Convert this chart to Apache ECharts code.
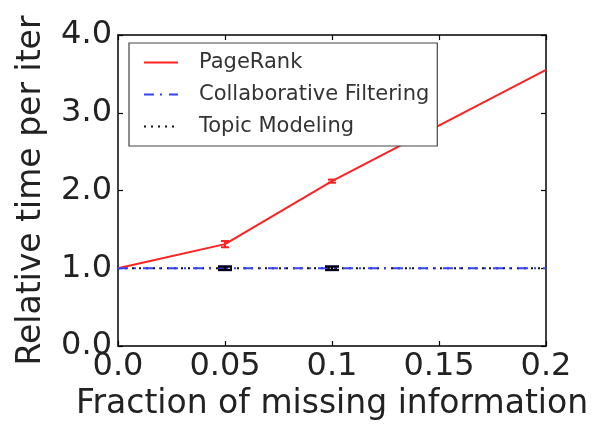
<!DOCTYPE html>
<html>
<head>
<meta charset="utf-8">
<script src="https://cdn.jsdelivr.net/npm/echarts@6/dist/echarts.min.js"></script>
<style>html,body{margin:0;padding:0;background:#fff;}#c{width:605px;height:427px;}</style>
</head>
<body>
<div id="c"></div>
<script>
var xValues = [0.0, 0.05, 0.1, 0.2];
var pageRank = [1.0, 1.31, 2.12, 3.55];
var pageRankErr = [0, 0.04, 0.02, 0];
var collabFiltering = [1.0, 1.0, 1.0, 1.0];
var collabErr = [0, 0.025, 0.025, 0];
var topicModeling = [1.0, 1.0, 1.0, 1.0];
var topicErr = [0, 0.02, 0.02, 0];
var xTickLabels = ['0.0', '0.05', '0.1', '0.15', '0.2'];
var yTickLabels = ['0.0', '1.0', '2.0', '3.0', '4.0'];

var FONT = 'DejaVu Sans';
function pts(ys) { return xValues.map(function (x, i) { return [x, ys[i]]; }); }
function errPts(ys, es) {
  var out = [];
  xValues.forEach(function (x, i) { if (es[i] > 0) out.push([x, ys[i], es[i]]); });
  return out;
}
function errSeries(name, ys, es, color, capW) {
  return {
    type: 'custom', name: name + ' err', silent: true, z: 5,
    data: errPts(ys, es),
    renderItem: function (params, api) {
      var x = api.value(0), y = api.value(1), e = api.value(2);
      var lo = api.coord([x, y - e]), hi = api.coord([x, y + e]);
      var st = { stroke: color, lineWidth: 2 };
      return { type: 'group', children: [
        { type: 'line', shape: { x1: lo[0], y1: lo[1], x2: hi[0], y2: hi[1] }, style: st },
        { type: 'line', shape: { x1: lo[0] - capW, y1: lo[1], x2: lo[0] + capW, y2: lo[1] }, style: st },
        { type: 'line', shape: { x1: hi[0] - capW, y1: hi[1], x2: hi[0] + capW, y2: hi[1] }, style: st }
      ]};
    }
  };
}

var axisLine = { show: true, onZero: false, lineStyle: { color: '#000', width: 1.5 } };
var tickIn = { show: true, inside: true, length: 5, lineStyle: { color: '#000', width: 1.2 } };

var chart = echarts.init(document.getElementById('c'));
chart.setOption({
  animation: false,
  backgroundColor: '#fff',
  grid: { left: 118, right: 59, top: 35, bottom: 81 },
  legend: {
    orient: 'vertical', left: 129, top: 43,
    data: ['PageRank', 'Collaborative Filtering', 'Topic Modeling'],
    itemWidth: 34, itemHeight: 12, itemGap: 11,
    padding: [9, 8, 9, 14],
    itemStyle: { opacity: 0 },
    borderColor: '#444', borderWidth: 1.2, backgroundColor: '#fff',
    textStyle: { fontFamily: FONT, fontSize: 21, color: '#333', padding: [0, 0, 0, 16] }
  },
  xAxis: [{
    type: 'value', min: 0, max: 0.2, interval: 0.05,
    name: 'Fraction of missing information', nameLocation: 'middle', nameGap: 41,
    nameTextStyle: { fontFamily: FONT, fontSize: 33, color: '#222' },
    axisLine: axisLine, axisTick: tickIn, splitLine: { show: false },
    axisLabel: { fontFamily: FONT, fontSize: 32, color: '#222', margin: 5,
      formatter: function (v) { return xTickLabels[Math.round(v / 0.05)]; } }
  }, {
    type: 'value', min: 0, max: 0.2, interval: 0.05, position: 'top',
    axisLine: axisLine, axisTick: tickIn, axisLabel: { show: false }, splitLine: { show: false }
  }],
  yAxis: [{
    type: 'value', min: 0, max: 4, interval: 1,
    name: 'Relative time per iter', nameLocation: 'middle', nameGap: 70,
    nameTextStyle: { fontFamily: FONT, fontSize: 33, color: '#222' },
    axisLine: axisLine, axisTick: tickIn, splitLine: { show: false },
    axisLabel: { fontFamily: FONT, fontSize: 32, color: '#222', margin: 6,
      formatter: function (v) { return yTickLabels[Math.round(v)]; } }
  }, {
    type: 'value', min: 0, max: 4, interval: 1, position: 'right',
    axisLine: axisLine, axisTick: tickIn, axisLabel: { show: false }, splitLine: { show: false }
  }],
  series: [
    { name: 'PageRank', type: 'line', data: pts(pageRank), symbol: 'none', z: 3,
      itemStyle: { color: '#ff2020' }, lineStyle: { color: '#ff2020', width: 2 } },
    { name: 'Collaborative Filtering', type: 'line', data: pts(collabFiltering), symbol: 'none', z: 4,
      itemStyle: { color: '#3344ff' }, lineStyle: { color: '#3344ff', width: 2, type: [10, 6, 2, 7] } },
    { name: 'Topic Modeling', type: 'line', data: pts(topicModeling), symbol: 'none', z: 2,
      itemStyle: { color: '#111' }, lineStyle: { color: '#111', width: 2, type: [2, 5] } },
    errSeries('PageRank', pageRank, pageRankErr, '#ff2020', 4),
    errSeries('Collaborative Filtering', collabFiltering, collabErr, '#101060', 7),
    errSeries('Topic Modeling', topicModeling, topicErr, '#000', 7)
  ]
});
</script>
</body>
</html>
